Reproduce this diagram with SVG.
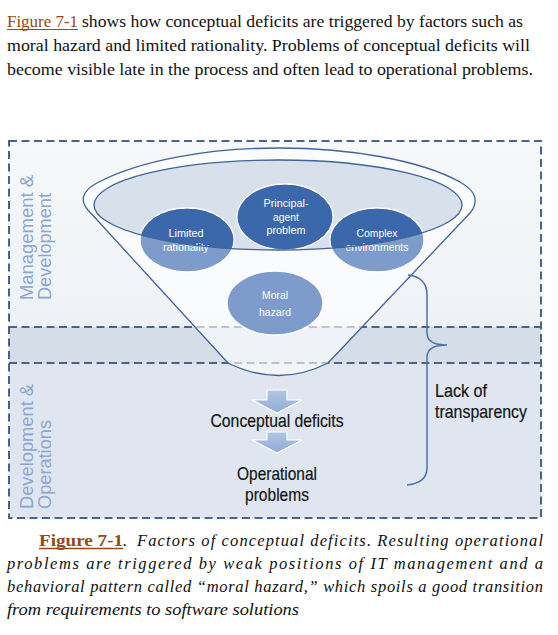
<svg xmlns="http://www.w3.org/2000/svg" width="558" height="635" viewBox="0 0 558 635">
<style>
.para{font-family:"Liberation Serif","Times New Roman",serif;font-size:16.5px;fill:#111}
.link{fill:#9a4716}
.cap{font-family:"Liberation Serif","Times New Roman",serif;font-size:16.5px;font-style:italic;fill:#111}
.caplink{font-family:"Liberation Serif","Times New Roman",serif;font-size:16.5px;font-weight:bold;fill:#9a4716}
.lbl{font-family:"Liberation Sans Narrow","Liberation Sans",Arial,sans-serif;font-size:18.5px;fill:#8ba6d1}
.b{font-family:"Liberation Sans Narrow","Liberation Sans",Arial,sans-serif;font-size:11.5px;fill:#fff;text-anchor:middle}
.m{font-family:"Liberation Sans Narrow","Liberation Sans",Arial,sans-serif;font-size:18.5px;fill:#141414;text-anchor:middle;stroke:#141414;stroke-width:0.2}
.t{font-family:"Liberation Sans Narrow","Liberation Sans",Arial,sans-serif;font-size:18.5px;fill:#141414;stroke:#141414;stroke-width:0.2}
.dash{stroke:#4a6488;stroke-width:2;stroke-dasharray:8 4.5;fill:none}
.bub{stroke:#fff;stroke-width:1.3}
.dark{fill:#3b67ab}
.light{fill:#7d9ccb}
.arrow{fill:url(#arrowGrad);stroke:#fff;stroke-width:1.2;stroke-linejoin:miter}
</style>
<defs>
<linearGradient id="topGrad" x1="0" y1="0" x2="0" y2="1">
<stop offset="0" stop-color="#f6f8fa"/>
<stop offset="1" stop-color="#eef2f6"/>
</linearGradient>
<linearGradient id="arrowGrad" x1="0" y1="0" x2="0" y2="1">
<stop offset="0" stop-color="#b3c7e6"/>
<stop offset="1" stop-color="#8fabd7"/>
</linearGradient>
<clipPath id="innerClip">
<ellipse cx="278" cy="205" rx="184" ry="45"/>
</clipPath>
</defs>

<g id="intro-text">
<text class="para link" x="7" y="27" textLength="71" lengthAdjust="spacingAndGlyphs">Figure 7-1</text>
<line x1="7" y1="29.5" x2="78" y2="29.5" stroke="#9a4716" stroke-width="1"/>
<text class="para" x="82" y="27" textLength="441" lengthAdjust="spacingAndGlyphs">shows how conceptual deficits are triggered by factors such as</text>
<text class="para" x="7" y="51" textLength="523" lengthAdjust="spacingAndGlyphs">moral hazard and limited rationality. Problems of conceptual deficits will</text>
<text class="para" x="7" y="75" textLength="526" lengthAdjust="spacingAndGlyphs">become visible late in the process and often lead to operational problems.</text>
</g>

<g id="background">
<rect x="9" y="141" width="532" height="186" fill="url(#topGrad)"/>
<rect x="9" y="327" width="532" height="36" fill="#d4dde8"/>
<rect x="9" y="363" width="532" height="155" fill="#dfe6ef"/>
<rect class="dash" x="9" y="141" width="532" height="377"/>
<line class="dash" x1="9" y1="327" x2="541" y2="327"/>
<line class="dash" x1="9" y1="363" x2="541" y2="363"/>
</g>

<g id="lane-labels">
<g id="label-management">
<text class="lbl" transform="translate(33,300) rotate(-90)" textLength="125" lengthAdjust="spacingAndGlyphs">Management &amp;</text>
<text class="lbl" transform="translate(50.5,300) rotate(-90)" textLength="107" lengthAdjust="spacingAndGlyphs">Development</text>
</g>
<g id="label-operations">
<text class="lbl" transform="translate(33,509) rotate(-90)" textLength="125" lengthAdjust="spacingAndGlyphs">Development &amp;</text>
<text class="lbl" transform="translate(50.5,509) rotate(-90)" textLength="89" lengthAdjust="spacingAndGlyphs">Operations</text>
</g>
</g>

<g id="funnel">
<path d="M 228,363 L 88,210 C 81,202 80,192 97,183 C 140,160 210,148 279,148 C 350,148 420,160 460,182 C 478,192 478,203 470,213 L 328,363 Q 279,388 228,363 Z" fill="#ffffff" fill-opacity="0.62" stroke="#3f6499" stroke-width="1.3" stroke-linejoin="round"/>
<ellipse cx="278" cy="205" rx="184" ry="45" fill="#d8e0eb"/>
</g>

<g id="limited-rationality">
<ellipse class="bub light" cx="187" cy="240" rx="47" ry="32"/>
<ellipse class="dark" cx="187" cy="240" rx="46.3" ry="31.3" clip-path="url(#innerClip)"/>
<text class="b" x="186" y="237" textLength="35" lengthAdjust="spacingAndGlyphs">Limited</text>
<text class="b" x="186" y="251" textLength="46" lengthAdjust="spacingAndGlyphs">rationality</text>
</g>
<g id="principal-agent">
<ellipse class="bub light" cx="285" cy="217" rx="48" ry="33"/>
<ellipse class="dark" cx="285" cy="217" rx="47.3" ry="32.3" clip-path="url(#innerClip)"/>
<text class="b" x="286" y="207" textLength="45" lengthAdjust="spacingAndGlyphs">Principal-</text>
<text class="b" x="286" y="220.5" textLength="26" lengthAdjust="spacingAndGlyphs">agent</text>
<text class="b" x="286" y="234" textLength="39" lengthAdjust="spacingAndGlyphs">problem</text>
</g>
<g id="complex-environments">
<ellipse class="bub light" cx="377" cy="240" rx="47" ry="32"/>
<ellipse class="dark" cx="377" cy="240" rx="46.3" ry="31.3" clip-path="url(#innerClip)"/>
<text class="b" x="377" y="237" textLength="41" lengthAdjust="spacingAndGlyphs">Complex</text>
<text class="b" x="377" y="251" textLength="63" lengthAdjust="spacingAndGlyphs">environments</text>
</g>
<g id="inner-rim">
<ellipse cx="278" cy="205" rx="184" ry="45" fill="none" stroke="#3f6499" stroke-width="1.3"/>
</g>
<g id="moral-hazard">
<ellipse class="bub light" cx="275" cy="303" rx="48" ry="32"/>
<text class="b" x="275" y="299" textLength="26" lengthAdjust="spacingAndGlyphs">Moral</text>
<text class="b" x="275" y="316" textLength="32" lengthAdjust="spacingAndGlyphs">hazard</text>
</g>

<g id="connectors">
<polygon class="arrow" points="267,390 287,390 287,400 302,400 277,413 252,400 267,400"/>
<polygon class="arrow" points="267,432 287,432 287,440 302,440 277,453 252,440 267,440"/>
<path d="M 408,275 Q 427,277 427,295 L 427,333 Q 427,345 447,345 Q 427,345 427,357 L 427,468 Q 427,483 407,485" fill="none" stroke="#4d72a8" stroke-width="1.5"/>
</g>

<g id="conceptual-deficits">
<text class="m" x="277" y="427" textLength="133" lengthAdjust="spacingAndGlyphs">Conceptual deficits</text>
</g>
<g id="operational-problems">
<text class="m" x="277" y="480" textLength="80" lengthAdjust="spacingAndGlyphs">Operational</text>
<text class="m" x="277" y="501" textLength="64" lengthAdjust="spacingAndGlyphs">problems</text>
</g>
<g id="lack-of-transparency">
<text class="t" x="435" y="397" textLength="52" lengthAdjust="spacingAndGlyphs">Lack of</text>
<text class="t" x="435" y="418" textLength="92" lengthAdjust="spacingAndGlyphs">transparency</text>
</g>

<g id="caption">
<text class="caplink" x="39" y="546" textLength="84" lengthAdjust="spacingAndGlyphs">Figure 7-1</text>
<line x1="39" y1="548.5" x2="123" y2="548.5" stroke="#9a4716" stroke-width="1.3"/>
<text class="cap" x="123" y="546">.</text>
<text class="cap" x="137" y="546" textLength="406" lengthAdjust="spacing">Factors of conceptual deficits. Resulting operational</text>
<text class="cap" x="7" y="569" textLength="536" lengthAdjust="spacing">problems are triggered by weak positions of IT management and a</text>
<text class="cap" x="7" y="592" textLength="536" lengthAdjust="spacing">behavioral pattern called “moral hazard,” which spoils a good transition</text>
<text class="cap" x="7" y="615" textLength="292" lengthAdjust="spacingAndGlyphs">from requirements to software solutions</text>
</g>
</svg>
